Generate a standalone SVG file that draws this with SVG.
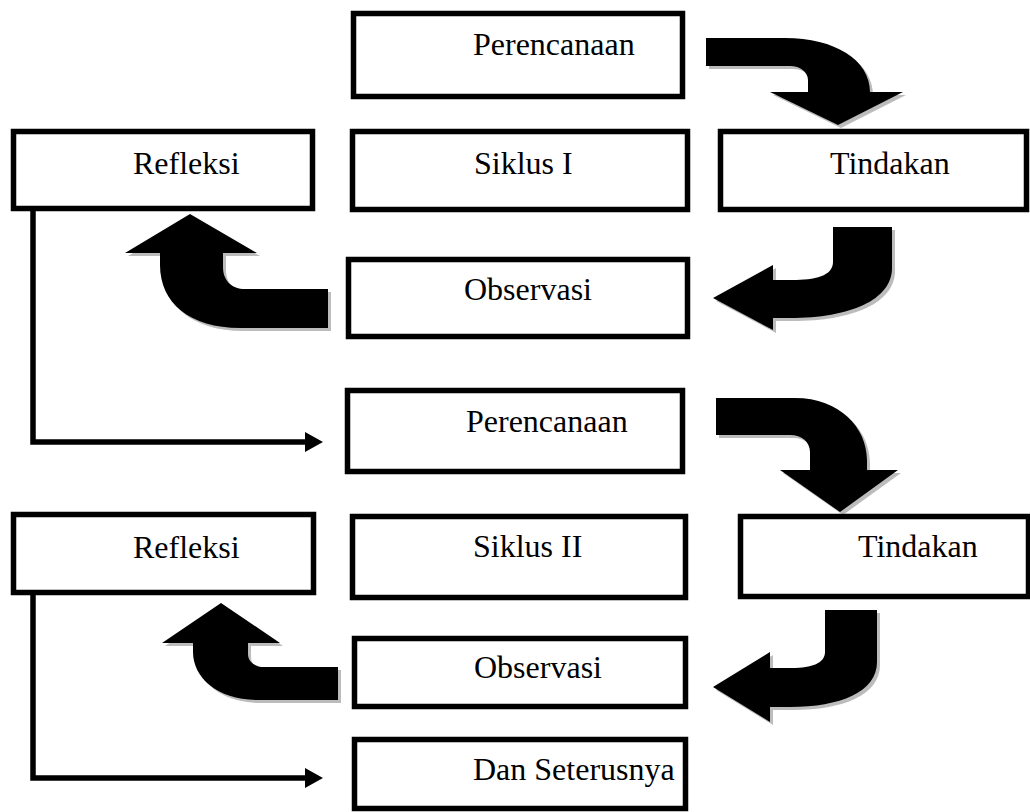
<svg xmlns="http://www.w3.org/2000/svg" xmlns:xlink="http://www.w3.org/1999/xlink" width="1030" height="812" viewBox="0 0 1030 812">
<style>
.box{fill:#fff;stroke:#000;stroke-width:5.5}
.lbl{font-family:"Liberation Serif","Times New Roman",serif;font-size:32px;fill:#000}
.conn{fill:none;stroke:#000;stroke-width:5.5}
.head{fill:#000}
.blk{fill:#000}
.shd{fill:#bcbcbc}
</style>
<defs>
<path id="a1" d="M706,38 L785,38 C835,38 870,60 870,92 L903,92 L838,125 L770,92 L808,92 L808,80 C808,72 800,66 790,66 L706,66 Z"/>
<path id="a2" d="M833,227 L892,227 L892,268 C892,300 850,318 790,318 L773,318 L773,330 L713,298 L773,265 L773,280 L792,280 C815,280 833,276 833,262 Z"/>
<path id="a3" d="M328,289 L328,328 L240,328 C190,328 160,303 160,265 L160,253 L125,253 L190,214 L257,253 L223,253 L223,267 C223,281 232,289 245,289 Z"/>
<path id="a4" d="M716,398 L795,398 C840,398 867,428 867,460 L867,470 L898,470 L840,512 L780,470 L810,470 L810,452 C810,442 802,435 790,435 L716,435 Z"/>
<path id="a5" d="M825,610 L877,610 L877,662 C877,692 840,707 790,707 L770,707 L770,722 L713,687 L770,652 L770,668 L792,668 C812,668 825,663 825,652 Z"/>
<path id="a6" d="M338,667 L338,700 L258,700 C218,700 193,678 193,652 L193,643 L162,643 L221,603 L280,643 L248,643 L248,654 C248,662 255,667 264,667 Z"/>
</defs>

<g id="connectors">
<path class="conn" d="M33,211 L33,442 L307,442"/>
<polygon class="head" points="305,432 323,442 305,452"/>
<path class="conn" d="M33,595 L33,778 L307,778"/>
<polygon class="head" points="305,768 323,778 305,788"/>
</g>

<g id="block-arrows">
<use xlink:href="#a1" class="shd" transform="translate(3,3)"/>
<use xlink:href="#a1" class="blk"/>
<use xlink:href="#a2" class="shd" transform="translate(3,3)"/>
<use xlink:href="#a2" class="blk"/>
<use xlink:href="#a3" class="shd" transform="translate(3,3)"/>
<use xlink:href="#a3" class="blk"/>
<use xlink:href="#a4" class="shd" transform="translate(3,3)"/>
<use xlink:href="#a4" class="blk"/>
<use xlink:href="#a5" class="shd" transform="translate(3,3)"/>
<use xlink:href="#a5" class="blk"/>
<use xlink:href="#a6" class="shd" transform="translate(3,3)"/>
<use xlink:href="#a6" class="blk"/>
</g>

<g id="perencanaan1"><rect class="box" x="353.5" y="13.5" width="329" height="83"/><text class="lbl" x="473" y="55">Perencanaan</text></g>
<g id="refleksi1"><rect class="box" x="13.5" y="131.5" width="299" height="77"/><text class="lbl" x="133" y="174">Refleksi</text></g>
<g id="siklus1"><rect class="box" x="352.5" y="131.5" width="335" height="78"/><text class="lbl" x="474" y="174">Siklus I</text></g>
<g id="tindakan1"><rect class="box" x="720.5" y="131.5" width="306" height="78"/><text class="lbl" x="830" y="174">Tindakan</text></g>
<g id="observasi1"><rect class="box" x="348.5" y="259.5" width="339" height="77"/><text class="lbl" x="464" y="300">Observasi</text></g>
<g id="perencanaan2"><rect class="box" x="347.5" y="390.5" width="335" height="81"/><text class="lbl" x="466" y="432">Perencanaan</text></g>
<g id="refleksi2"><rect class="box" x="13.5" y="514.5" width="300" height="78"/><text class="lbl" x="133" y="558">Refleksi</text></g>
<g id="siklus2"><rect class="box" x="352.5" y="516.5" width="333" height="81"/><text class="lbl" x="473" y="557">Siklus II</text></g>
<g id="tindakan2"><rect class="box" x="740.5" y="516.5" width="288" height="80"/><text class="lbl" x="858" y="557">Tindakan</text></g>
<g id="observasi2"><rect class="box" x="354.5" y="638.5" width="331" height="68"/><text class="lbl" x="474" y="678">Observasi</text></g>
<g id="dan-seterusnya"><rect class="box" x="354.5" y="739.5" width="331" height="69"/><text class="lbl" x="473" y="780">Dan Seterusnya</text></g>
</svg>
